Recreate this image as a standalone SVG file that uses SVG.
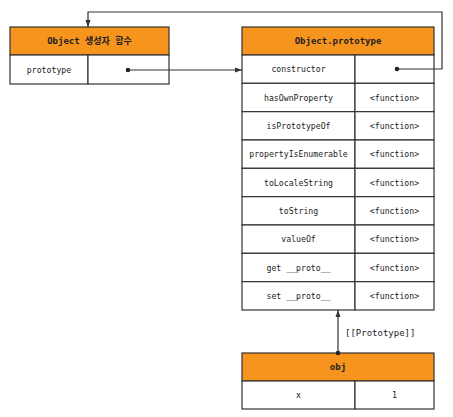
<svg xmlns="http://www.w3.org/2000/svg" width="453" height="417" viewBox="0 0 453 417">
<style>
.hd{fill:#F7941D;stroke:#333;stroke-width:1.2}
.cell{fill:#fff;stroke:#333;stroke-width:1.2}
.ln{stroke:#333;stroke-width:1.2;fill:none}
text{font-family:"DejaVu Sans Mono","Noto Sans CJK KR",monospace;font-size:8.2px;fill:#222;text-anchor:middle;dominant-baseline:central}
.ht{font-weight:bold;font-size:9px}
.lbl{text-anchor:start;font-size:9px}
</style>
<defs>
<marker id="ah" markerWidth="8" markerHeight="8" refX="7" refY="4" orient="auto" markerUnits="userSpaceOnUse">
<path d="M0,1.5 L7,4 L0,6.5 Z" fill="#333"/>
</marker>
</defs>
<rect width="453" height="417" fill="#fff"/>
<g id="ctor">
<rect class="hd" x="10" y="27" width="159" height="28"/>
<text class="ht" x="89.5" y="41">Object 생성자 함수</text>
<rect class="cell" x="10" y="55" width="78" height="29"/>
<rect class="cell" x="88" y="55" width="81" height="29"/>
<text x="49" y="70">prototype</text>
</g>
<g id="proto">
<rect class="hd" x="242" y="27" width="192" height="28"/>
<text class="ht" x="338" y="41">Object.prototype</text>
<g>
<rect class="cell" x="242" y="55" width="113" height="28.33"/><rect class="cell" x="355" y="55" width="79" height="28.33"/>
<rect class="cell" x="242" y="83.33" width="113" height="28.33"/><rect class="cell" x="355" y="83.33" width="79" height="28.33"/>
<rect class="cell" x="242" y="111.67" width="113" height="28.33"/><rect class="cell" x="355" y="111.67" width="79" height="28.33"/>
<rect class="cell" x="242" y="140" width="113" height="28.33"/><rect class="cell" x="355" y="140" width="79" height="28.33"/>
<rect class="cell" x="242" y="168.33" width="113" height="28.33"/><rect class="cell" x="355" y="168.33" width="79" height="28.33"/>
<rect class="cell" x="242" y="196.67" width="113" height="28.33"/><rect class="cell" x="355" y="196.67" width="79" height="28.33"/>
<rect class="cell" x="242" y="225" width="113" height="28.33"/><rect class="cell" x="355" y="225" width="79" height="28.33"/>
<rect class="cell" x="242" y="253.33" width="113" height="28.33"/><rect class="cell" x="355" y="253.33" width="79" height="28.33"/>
<rect class="cell" x="242" y="281.67" width="113" height="28.33"/><rect class="cell" x="355" y="281.67" width="79" height="28.33"/>
</g>
<text x="298.5" y="69.2">constructor</text>
<text x="298.5" y="97.5">hasOwnProperty</text><text x="394.5" y="97.5">&lt;function&gt;</text>
<text x="298.5" y="125.8">isPrototypeOf</text><text x="394.5" y="125.8">&lt;function&gt;</text>
<text x="298.5" y="154.2">propertyIsEnumerable</text><text x="394.5" y="154.2">&lt;function&gt;</text>
<text x="298.5" y="182.5">toLocaleString</text><text x="394.5" y="182.5">&lt;function&gt;</text>
<text x="298.5" y="210.8">toString</text><text x="394.5" y="210.8">&lt;function&gt;</text>
<text x="298.5" y="239.2">valueOf</text><text x="394.5" y="239.2">&lt;function&gt;</text>
<text x="298.5" y="267.5">get __proto__</text><text x="394.5" y="267.5">&lt;function&gt;</text>
<text x="298.5" y="295.8">set __proto__</text><text x="394.5" y="295.8">&lt;function&gt;</text>
</g>
<g id="obj">
<rect class="hd" x="242" y="353" width="192" height="28"/>
<text class="ht" x="338" y="367">obj</text>
<rect class="cell" x="242" y="381" width="113" height="28"/>
<rect class="cell" x="355" y="381" width="79" height="28"/>
<text x="298.5" y="395">x</text>
<text x="394.5" y="395">1</text>
</g>
<g id="connectors">
<circle cx="128" cy="70" r="2.3" fill="#222"/>
<path class="ln" d="M128,70 H242" marker-end="url(#ah)"/>
<circle cx="397" cy="69" r="2.3" fill="#222"/>
<path class="ln" d="M397,69 H442 V12 H88 V27" marker-end="url(#ah)"/>
<circle cx="338" cy="353" r="2.3" fill="#222"/>
<path class="ln" d="M338,353 V310" marker-end="url(#ah)"/>
<text class="lbl" x="345" y="333">[[Prototype]]</text>
</g>
</svg>
